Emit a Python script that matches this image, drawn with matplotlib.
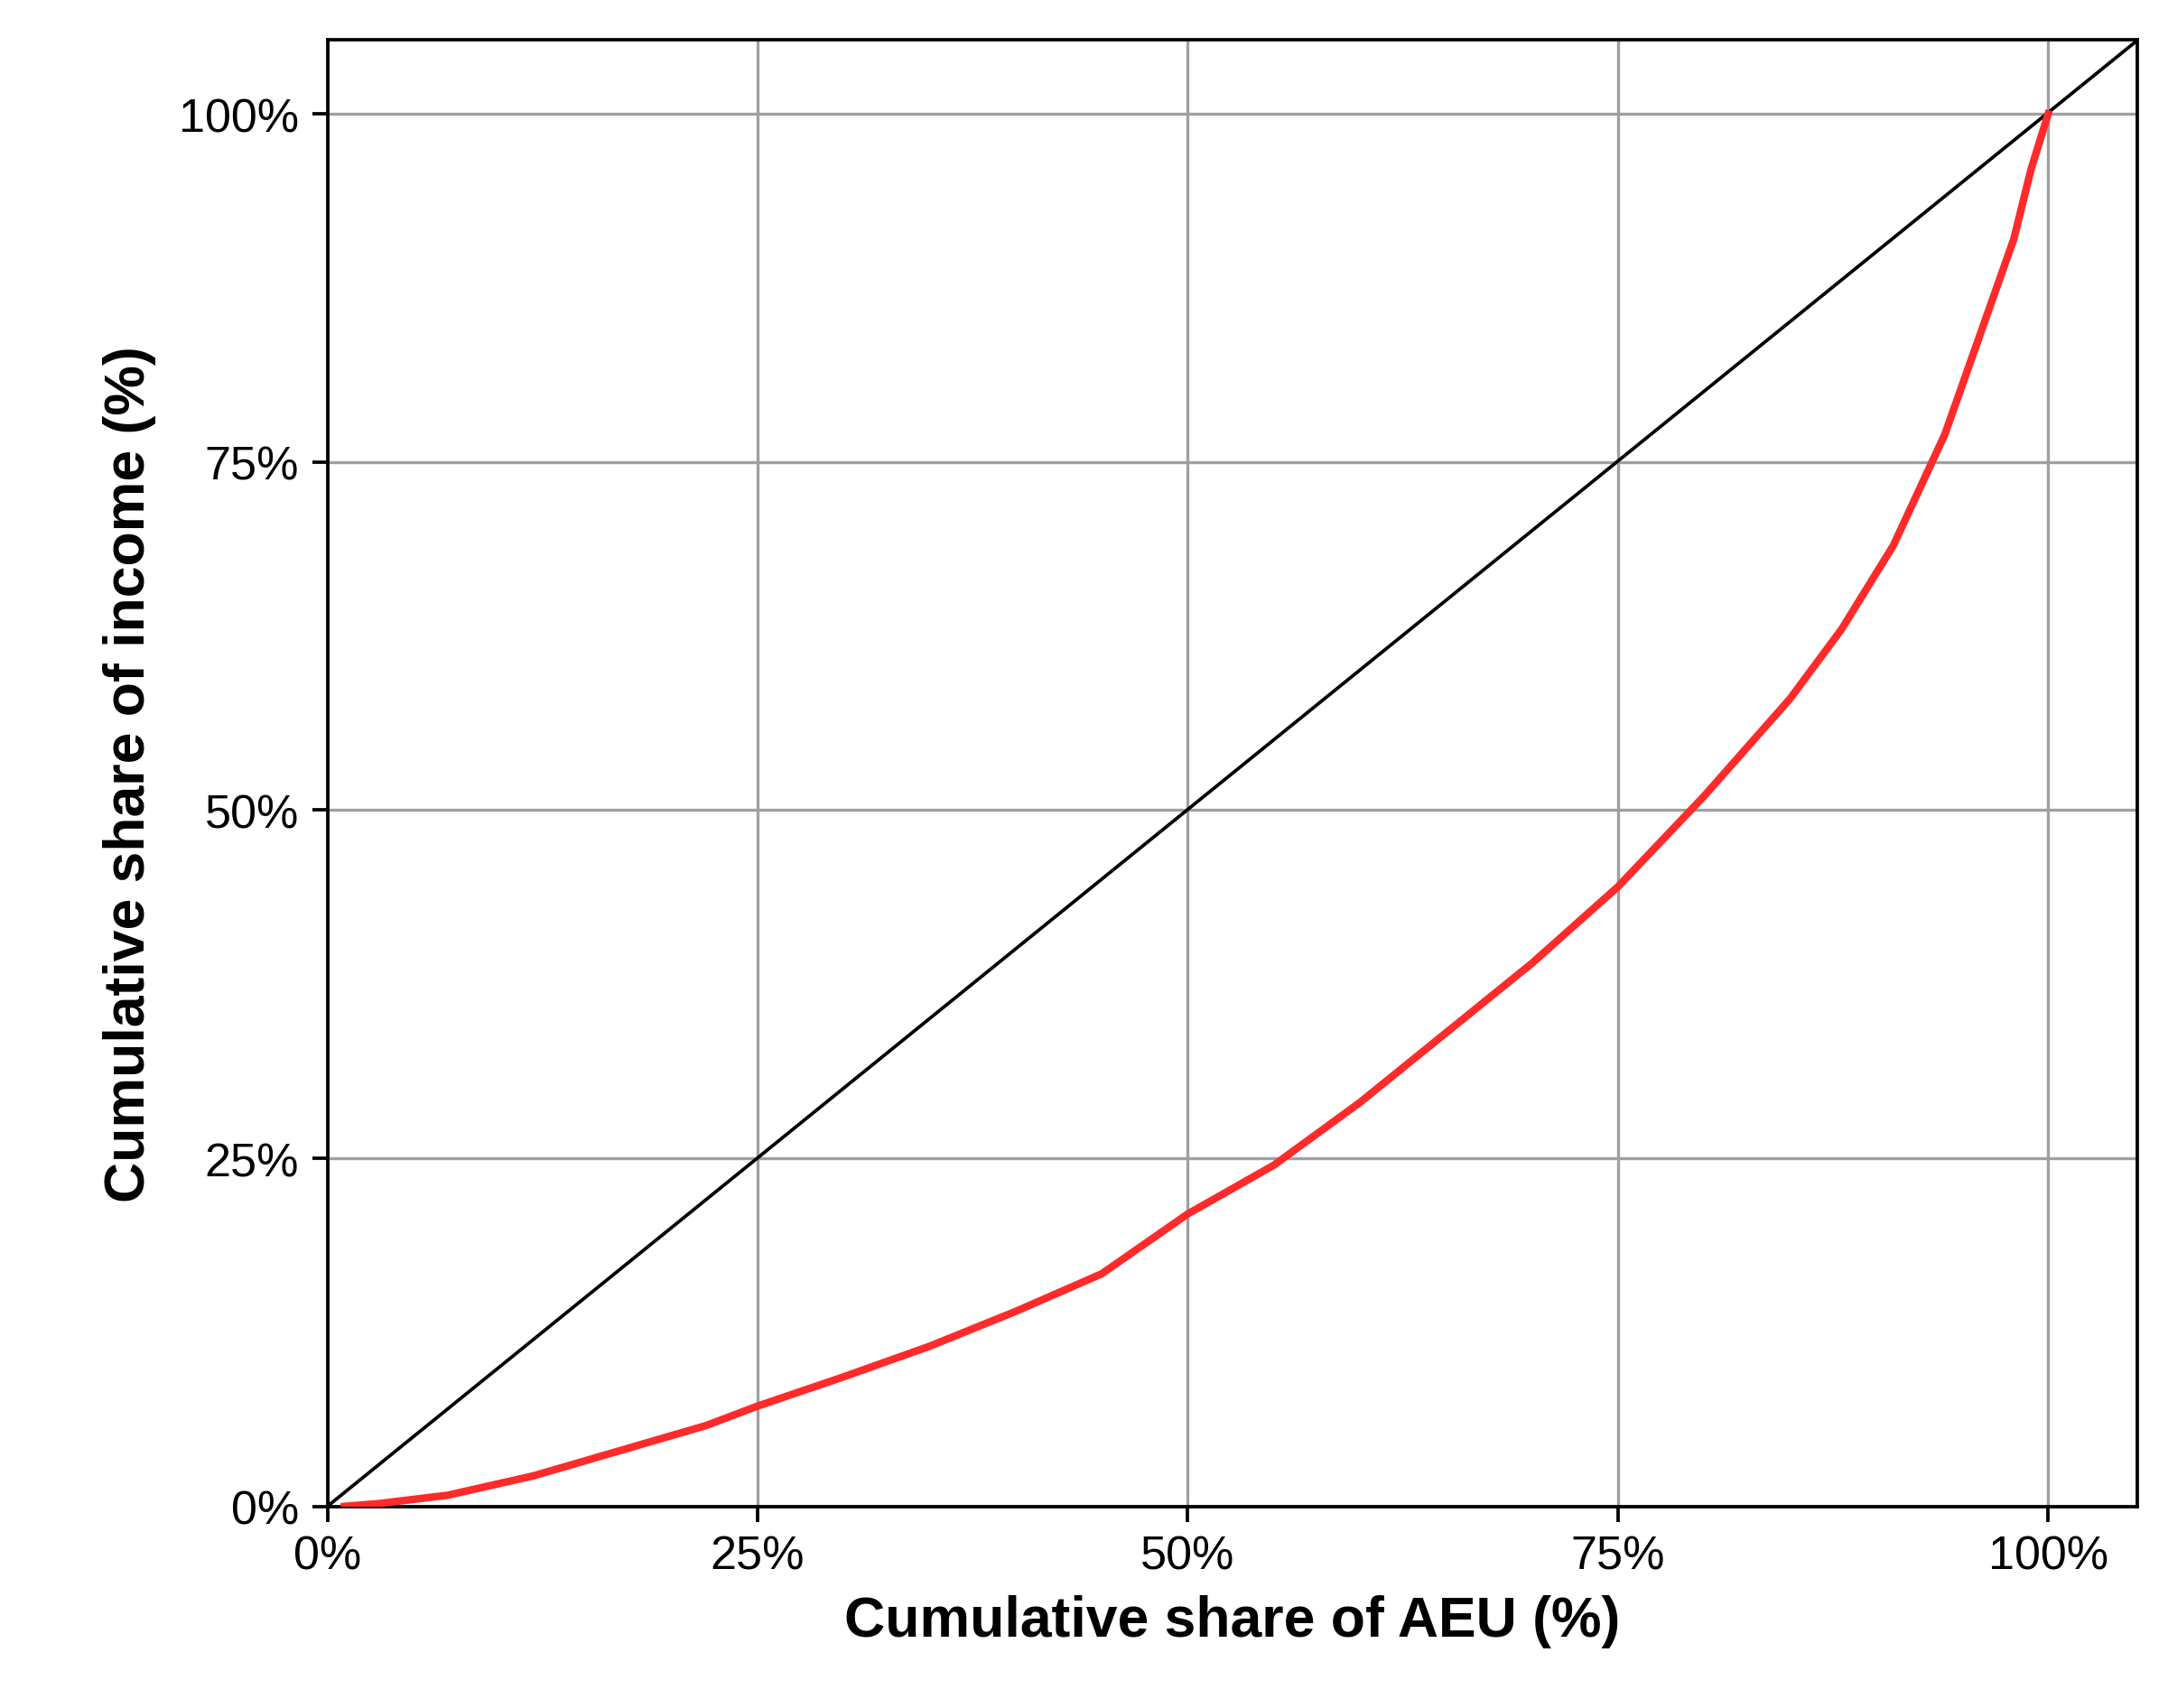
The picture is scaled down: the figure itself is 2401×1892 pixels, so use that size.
import matplotlib
matplotlib.use("Agg")
import matplotlib.pyplot as plt
from matplotlib.ticker import FuncFormatter

plt.rcParams['font.family'] = ['Liberation Sans', 'DejaVu Sans']

# Lorenz curve (cumulative share of AEU vs cumulative share of income)
cum_aeu = [0.01, 0.03, 0.07, 0.12, 0.17, 0.22, 0.25, 0.30, 0.35, 0.40, 0.45,
           0.50, 0.55, 0.60, 0.65, 0.70, 0.75, 0.80, 0.85, 0.88, 0.91, 0.94,
           0.96, 0.98, 0.99, 1.00]
cum_income = [0.0, 0.002, 0.008, 0.022, 0.040, 0.058, 0.072, 0.093, 0.115,
              0.140, 0.167, 0.210, 0.245, 0.290, 0.340, 0.390, 0.445, 0.510,
              0.580, 0.630, 0.690, 0.770, 0.840, 0.910, 0.960, 1.000]
ticks = [0, 0.25, 0.5, 0.75, 1.0]

fig = plt.figure(figsize=(2401 / 300, 1893 / 300), dpi=300)
ax = fig.add_axes([0.151, 0.118, 0.835, 0.858])

ax.plot([0, 1.052], [0, 1.053], color="black", lw=0.9, zorder=2)
ax.plot(cum_aeu, cum_income, color="#ff2a2a", lw=2.0, zorder=3)

ax.set_xlim(0, 1.052)
ax.set_ylim(0, 1.053)
ax.set_xticks(ticks)
ax.set_yticks(ticks)
pct = FuncFormatter(lambda v, _: f"{v * 100:.0f}%")
ax.xaxis.set_major_formatter(pct)
ax.yaxis.set_major_formatter(pct)
ax.grid(True, color="#a0a0a0", lw=0.8)
ax.set_axisbelow(True)
ax.tick_params(labelsize=12.5, length=4, width=0.9, color="black")
for s in ax.spines.values():
    s.set_linewidth(0.9)

ax.set_xlabel("Cumulative share of AEU (%)", fontsize=15, fontweight="bold", labelpad=4)
ax.set_ylabel("Cumulative share of income (%)", fontsize=15, fontweight="bold", labelpad=6)

fig.savefig("out.png", dpi=300)
